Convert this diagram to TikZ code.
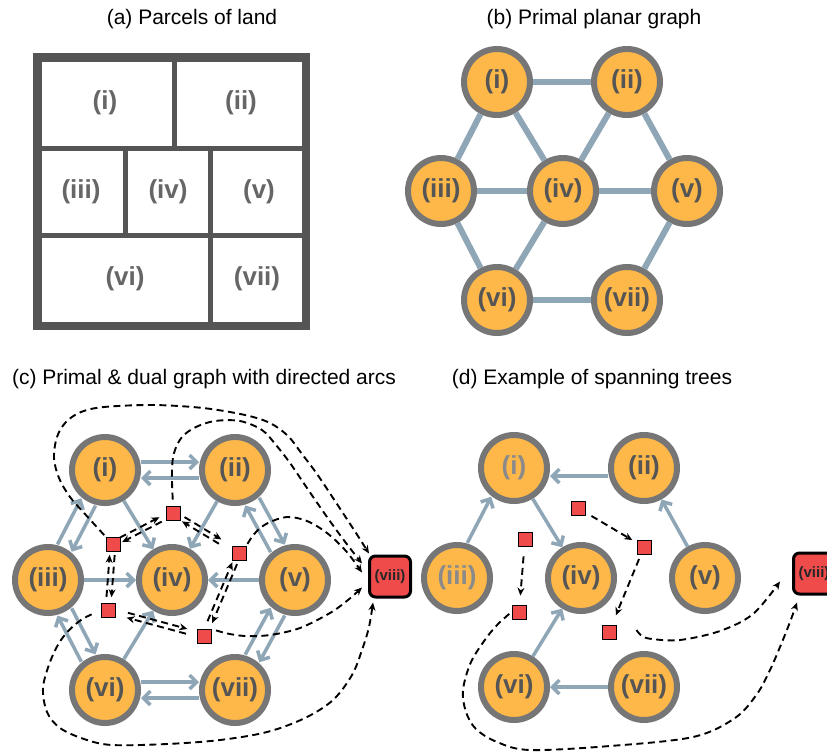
\documentclass[tikz,border=0pt]{standalone}
\usepackage{fontspec}
\setmainfont{Liberation Sans}
\usetikzlibrary{arrows.meta,calc}

\definecolor{orangefill}{HTML}{FDB849}
\definecolor{ringgray}{HTML}{767676}
\definecolor{edgeblue}{HTML}{8FA6B6}
\definecolor{labelgray}{HTML}{555555}
\definecolor{softgray}{HTML}{8A8A8A}
\definecolor{dualred}{HTML}{F04B4B}
\definecolor{framegray}{HTML}{555555}
\definecolor{parcelgray}{HTML}{666666}

% one primal arc #1 -> #2, shifted sideways by #3
\newcommand\primarc[3]{%
  \draw[parc, shorten <=36pt, shorten >=36pt]
    ($(#1)!#3!90:(#2)$) -- ($(#2)!#3!-90:(#1)$);}
% both primal arcs between #1 and #2
\newcommand\primpair[2]{\primarc{#1}{#2}{8pt}\primarc{#2}{#1}{8pt}}
% both dual arcs between #1 and #2, trimmed by #3 at #1 and #4 at #2
\newcommand\dualpair[4]{%
  \draw[darc, shorten <=#3, shorten >=#4]
    ($(#1)!2.5pt!90:(#2)$) -- ($(#2)!2.5pt!-90:(#1)$);
  \draw[darc, shorten <=#4, shorten >=#3]
    ($(#2)!2.5pt!90:(#1)$) -- ($(#1)!2.5pt!-90:(#2)$);}

\begin{document}
\begin{tikzpicture}[x=1pt,y=-1pt,
  title/.style={font=\fontsize{21}{25}\selectfont, inner sep=0pt},
  plabel/.style={font=\fontsize{26}{30}\selectfont\bfseries, text=parcelgray, inner sep=0pt},
  parcel/.style={circle, fill=orangefill, draw=ringgray, line width=6pt,
    minimum size=66pt, inner sep=0pt,
    font=\fontsize{26}{30}\selectfont\bfseries, text=labelgray},
  dualsq/.style={rectangle, fill=dualred, draw=black, line width=0.8pt,
    minimum size=14pt, inner sep=0pt},
  outerface/.style={rectangle, rounded corners=6pt, fill=dualred, draw=black,
    line width=3pt, minimum size=41pt, inner sep=0pt,
    font=\fontsize{15}{18}\selectfont\bfseries, text=black!85},
  pedge/.style={draw=edgeblue, line width=6pt},
  parc/.style={draw=edgeblue, line width=3.5pt,
    -{Straight Barb[length=7pt,width=14pt]}},
  darc/.style={draw=black, line width=1.9pt, dash pattern=on 7pt off 4.5pt,
    -{Stealth[length=8pt,width=7pt]}},
  frame/.style={draw=framegray, line width=8.5pt},
  wall/.style={draw=framegray, line width=5pt}
]
\useasboundingbox (0,0) rectangle (827,753);
\fill[white] (0,0) rectangle (827,753);

% ---------- titles ----------
\node[title] (ta) at (192,19)  {(a) Parcels of land};
\node[title] (tb) at (594,19)  {(b) Primal planar graph};
\node[title] (tc) at (204,379) {(c) Primal \& dual graph with directed arcs};
\node[title] (td) at (592,379) {(d) Example of spanning trees};

% ---------- (a) parcels ----------
\draw[wall] (37.5,148.3) -- (306,148.3);
\draw[wall] (37.5,235) -- (306,235);
\draw[wall] (174,57.5) -- (174,148.3);
\draw[wall] (125.2,148.3) -- (125.2,235);
\draw[wall] (210.8,148.3) -- (210.8,326);
\draw[frame] (37.5,57.5) rectangle (306,326);
\node[plabel] (la1) at (105,103) {(i)};
\node[plabel] (la2) at (241,103) {(ii)};
\node[plabel] (la3) at (81,192)  {(iii)};
\node[plabel] (la4) at (168,192) {(iv)};
\node[plabel] (la5) at (259,192) {(v)};
\node[plabel] (la6) at (125,279) {(vi)};
\node[plabel] (la7) at (257,279) {(vii)};

% ---------- (b) primal planar graph ----------
\node[parcel] (b1) at (497,82)  {(i)};
\node[parcel] (b2) at (627,82)  {(ii)};
\node[parcel] (b3) at (441,191) {(iii)};
\node[parcel] (b4) at (563,191) {(iv)};
\node[parcel] (b5) at (687,191) {(v)};
\node[parcel] (b6) at (497,300) {(vi)};
\node[parcel] (b7) at (627,300) {(vii)};
\foreach \a/\b in {b1/b2,b1/b3,b1/b4,b2/b4,b2/b5,b3/b4,b4/b5,b3/b6,b4/b6,b5/b7,b6/b7}
  \draw[pedge] (\a) -- (\b);

% ---------- (c) primal and dual graph ----------
\node[parcel] (c1) at (105,470) {(i)};
\node[parcel] (c2) at (235,470) {(ii)};
\node[parcel] (c3) at (48,580)  {(iii)};
\node[parcel] (c4) at (172,580) {(iv)};
\node[parcel] (c5) at (295,580) {(v)};
\node[parcel] (c6) at (105,690) {(vi)};
\node[parcel] (c7) at (235,690) {(vii)};
\node[outerface] (c8) at (390,576.5) {(viii)};

\primpair{c1}{c2}
\primpair{c1}{c3}
\primpair{c2}{c5}
\primpair{c3}{c6}
\primpair{c5}{c7}
\primpair{c6}{c7}
\draw[parc] (c1) -- (c4);
\draw[parc] (c2) -- (c4);
\draw[parc] (c3) -- (c4);
\draw[parc] (c5) -- (c4);
\draw[parc] (c6) -- (c4);

\node[dualsq] (f1) at (173,513) {};
\node[dualsq] (f2) at (113,544) {};
\node[dualsq] (f3) at (239,553) {};
\node[dualsq] (f4) at (108,610) {};
\node[dualsq] (f5) at (204,636) {};

\dualpair{f1}{f2}{14pt}{9pt}
\dualpair{f1}{f3}{12pt}{22pt}
\dualpair{f2}{f4}{11pt}{13pt}
\dualpair{f4}{f5}{20pt}{18pt}
\dualpair{f3}{f5}{11pt}{15pt}

% arcs to the outer face
\draw[darc, shorten <=2pt] plot[smooth, tension=0.55] coordinates {
  (f2.north west) (85,514) (70,497) (59,478) (54,458) (57,437) (66,422)
  (81,412) (104,407) (153,405) (203,408) (245,415) (270,423) (288,436)
  (302,454) (317,474) (337,504) (356,533) ($(c8)+(-21,-23)$)};
\draw[darc, shorten <=6pt] plot[smooth, tension=0.55] coordinates {
  (f1.north) (172,472) (174,453) (182,437) (196,427) (215,421) (240,421)
  (262,430) (276,445) (290,463) (307,488) (327,517) (346,543)
  ($(c8)+(-28,-13)$)};
\draw[darc, shorten <=2pt] plot[smooth, tension=0.55] coordinates {
  (f3.north east) (256,532) (268,523) (287,517) (307,521) (327,533)
  (346,551) ($(c8)+(-28,-4)$)};
\draw[darc, shorten <=5pt] plot[smooth, tension=0.55] coordinates {
  (f5.north east) (225,633) (245,636) (270,635) (300,628) (330,613)
  (348,600) ($(c8)+(-28,11)$)};
\draw[darc, shorten <=10pt] plot[smooth, tension=0.55] coordinates {
  (f4.west) (77,623) (61,640) (50,662) (43,688) (47,712) (60,728)
  (84,739) (112,745) (167,744) (220,740) (267,732) (305,718) (333,700)
  (352,675) (362,650) (369,627) ($(c8)+(-17,26)$)};

% ---------- (d) spanning trees ----------
\node[parcel, text=softgray] (n1) at (514,468) {(i)};
\node[parcel] (n2) at (644,468) {(ii)};
\node[parcel, text=softgray] (n3) at (457,578) {(iii)};
\node[parcel] (n4) at (581,578) {(iv)};
\node[parcel] (n5) at (705,578) {(v)};
\node[parcel] (n6) at (514,687) {(vi)};
\node[parcel] (n7) at (644,687) {(vii)};
\node[outerface] (n8) at (814,573.5) {(viii)};

\primarc{n2}{n1}{8pt}
\primarc{n3}{n1}{7pt}
\draw[parc] (n1) -- (n4);
\draw[parc] (n5) -- (n2);
\draw[parc] (n6) -- (n4);
\draw[parc] (n7) -- (n6);

\node[dualsq] (g1) at (578,508) {};
\node[dualsq] (g2) at (644,547) {};
\node[dualsq] (g3) at (525,539) {};
\node[dualsq] (g4) at (519,612) {};
\node[dualsq] (g5) at (609,632) {};

\draw[darc, shorten <=7pt, shorten >=5pt] (g1) -- (g2);
\draw[darc, shorten <=5pt, shorten >=10pt] (g2) -- (g5);
\draw[darc, shorten <=10pt, shorten >=9pt] (g3) -- (g4);
\draw[darc, shorten <=3pt] plot[smooth, tension=0.55] coordinates {
  (g4.west) (500,622) (487,637) (471,662) (463,690) (466,712) (476,729)
  (497,742) (530,750) (610,746) (693,737) (735,718) (757,694) (770,670)
  (780,647) (790,622) ($(n8)+(-17,29)$)};
\draw[darc] plot[smooth, tension=0.55] coordinates {
  ($(g5.east)+(20,-2)$) (642,636) (652,639) (680,640) (720,631) (753,614)
  ($(n8)+(-34,8)$)};
\end{tikzpicture}
\end{document}
